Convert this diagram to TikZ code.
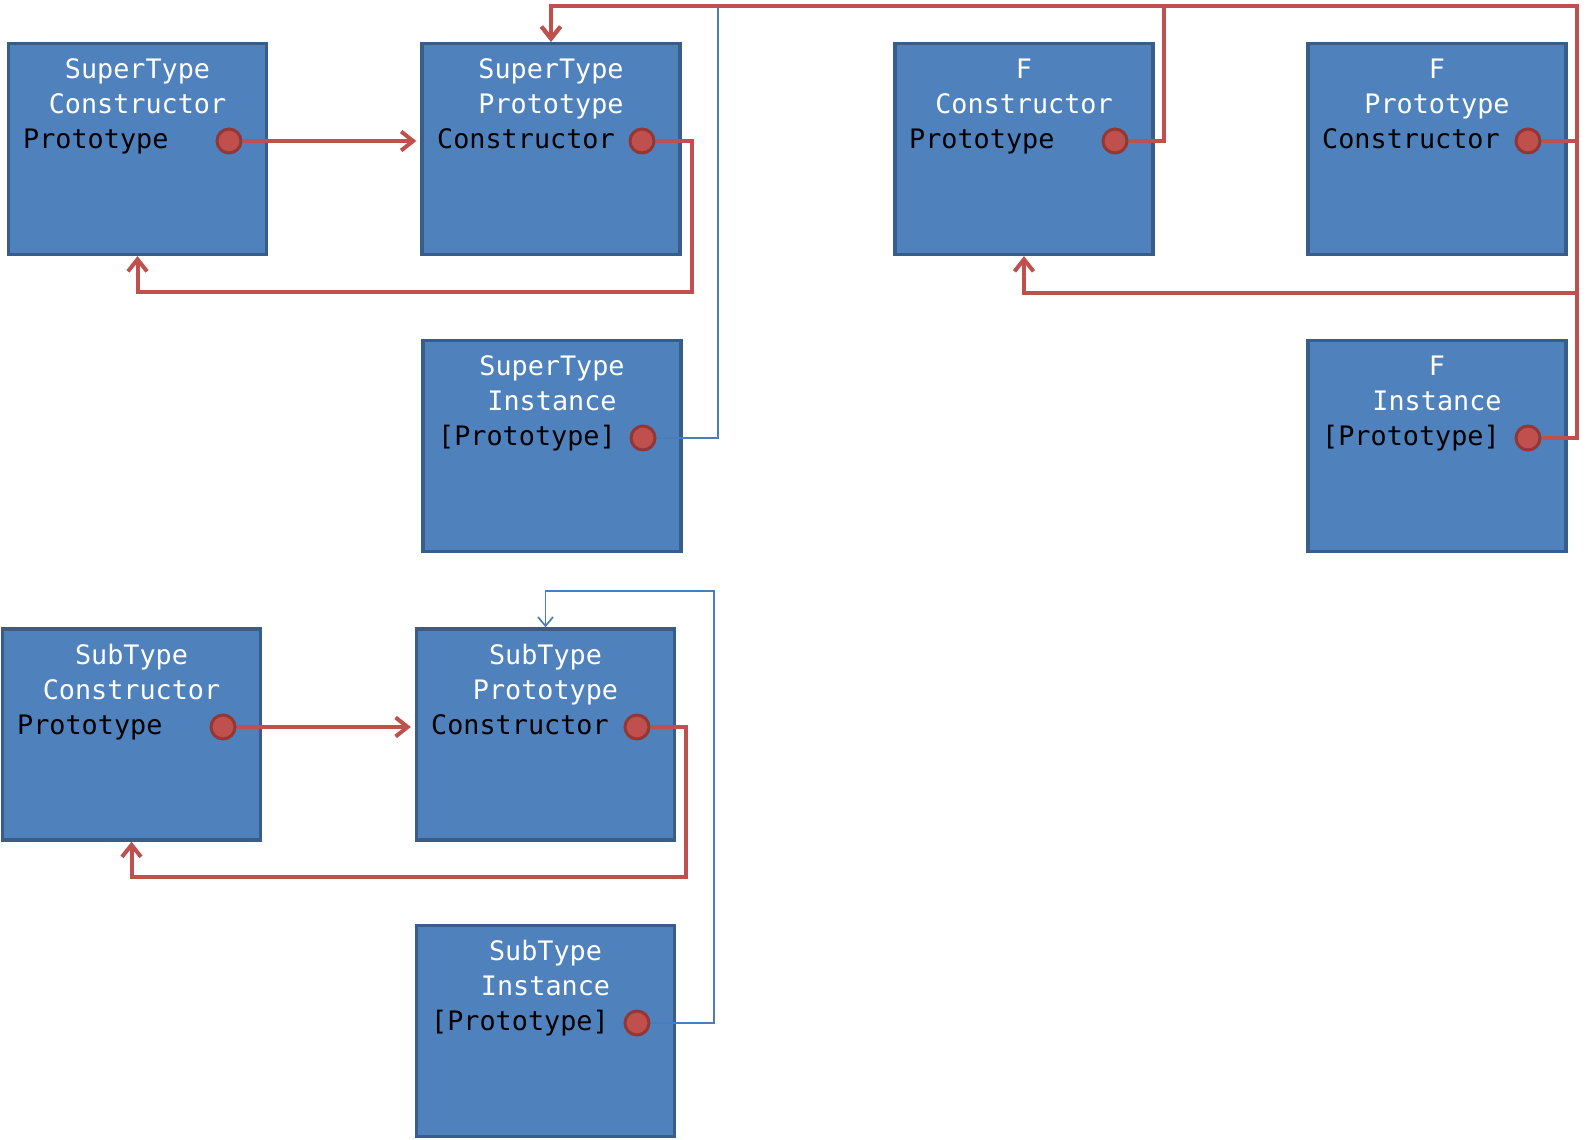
\documentclass[tikz,border=0pt]{standalone}
\usepackage{fontspec}
\newfontfamily\boxfont{DejaVu Sans Mono}
\usetikzlibrary{arrows.meta}
\definecolor{boxfill}{HTML}{4F81BD}
\definecolor{boxline}{HTML}{385D8A}
\definecolor{linkred}{HTML}{C0504D}
\definecolor{dotline}{HTML}{943634}
\definecolor{linkblue}{HTML}{4A7EBB}
\begin{document}
\begin{tikzpicture}[x=1pt,y=-1pt,
  objbox/.style={draw=boxline, fill=boxfill, line width=3.3pt,
    minimum width=258pt, minimum height=211pt, inner sep=0pt},
  title/.style={anchor=base, text=white, inner sep=0pt,
    font=\boxfont\fontsize{26.8}{30}\selectfont},
  field/.style={anchor=base west, text=black, inner sep=0pt,
    font=\boxfont\fontsize{26.8}{30}\selectfont},
  slot/.style={circle, draw=dotline, fill=linkred, line width=3pt,
    minimum size=24pt, inner sep=0pt},
  reflink/.style={draw=linkred, line width=4pt,
    -{Straight Barb[length=12pt,width=19pt]}},
  instlink/.style={draw=linkblue, line width=1.7pt},
  instarrow/.style={instlink, -{Straight Barb[length=9pt,width=15pt]}}
]
\useasboundingbox (0,0) rectangle (1587,1140);

% SuperType constructor / prototype / instance
\node[objbox] (sc) at (137.5,149) {};
\node[title] (sc1) at (137.5,78) {SuperType};
\node[title] (sc2) at (137.5,113) {Constructor};
\node[field] (sc3) at (23,148) {Prototype};
\node[slot] (scdot) at (229,141) {};

\node[objbox] (sp) at (551,149) {};
\node[title] (sp1) at (551,78) {SuperType};
\node[title] (sp2) at (551,113) {Prototype};
\node[field] (sp3) at (437,148) {Constructor};
\node[slot] (spdot) at (642,141) {};

\node[objbox] (si) at (552,446) {};
\node[title] (si1) at (552,375) {SuperType};
\node[title] (si2) at (552,410) {Instance};
\node[field] (si3) at (438,445) {[Prototype]};
\node[slot] (sidot) at (643,438) {};

% F constructor / prototype / instance
\node[objbox] (fc) at (1024,149) {};
\node[title] (fc1) at (1024,78) {F};
\node[title] (fc2) at (1024,113) {Constructor};
\node[field] (fc3) at (909,148) {Prototype};
\node[slot] (fcdot) at (1115,141) {};

\node[objbox] (fp) at (1437,149) {};
\node[title] (fp1) at (1437,78) {F};
\node[title] (fp2) at (1437,113) {Prototype};
\node[field] (fp3) at (1322,148) {Constructor};
\node[slot] (fpdot) at (1528,141) {};

\node[objbox] (fi) at (1437,446) {};
\node[title] (fi1) at (1437,375) {F};
\node[title] (fi2) at (1437,410) {Instance};
\node[field] (fi3) at (1322,445) {[Prototype]};
\node[slot] (fidot) at (1528,438) {};

% SubType constructor / prototype / instance
\node[objbox] (subc) at (131.5,734.5) {};
\node[title] (subc1) at (131.5,664) {SubType};
\node[title] (subc2) at (131.5,699) {Constructor};
\node[field] (subc3) at (17,734) {Prototype};
\node[slot] (subcdot) at (223,727) {};

\node[objbox] (subp) at (545.5,734.5) {};
\node[title] (subp1) at (545.5,664) {SubType};
\node[title] (subp2) at (545.5,699) {Prototype};
\node[field] (subp3) at (431,734) {Constructor};
\node[slot] (subpdot) at (637,727) {};

\node[objbox] (subi) at (545.5,1031) {};
\node[title] (subi1) at (545.5,960) {SubType};
\node[title] (subi2) at (545.5,995) {Instance};
\node[field] (subi3) at (431,1030) {[Prototype]};
\node[slot] (subidot) at (637,1023) {};

% routing points
\coordinate (spturn) at (692,292);
\coordinate (fcturn) at (1164,6);
\coordinate (fpturn) at (1577,293);
\coordinate (fiturn) at (1577,6);
\coordinate (siend) at (718,6);
\coordinate (subpturn) at (686,877);
\coordinate (subiturn) at (714,591);

% references
\draw[instlink] (sidot.east) -| (siend);
\draw[reflink, shorten >=4pt] (scdot.east) -- (scdot.east -| sp.west);
\draw[reflink] (spdot.east) -| (spturn) -| (sc.south);
\draw[reflink] (fidot.east) -| (fiturn) -| (sp.north);
\draw[reflink] (fcdot.east) -| (fcturn) -| (sp.north);
\draw[reflink] (fpdot.east) -| (fpturn) -| (fc.south);
\draw[reflink, shorten >=4pt] (subcdot.east) -- (subcdot.east -| subp.west);
\draw[reflink] (subpdot.east) -| (subpturn) -| (subc.south);
\draw[instarrow] (subidot.east) -| (subiturn) -| (subp.north);
\end{tikzpicture}
\end{document}
